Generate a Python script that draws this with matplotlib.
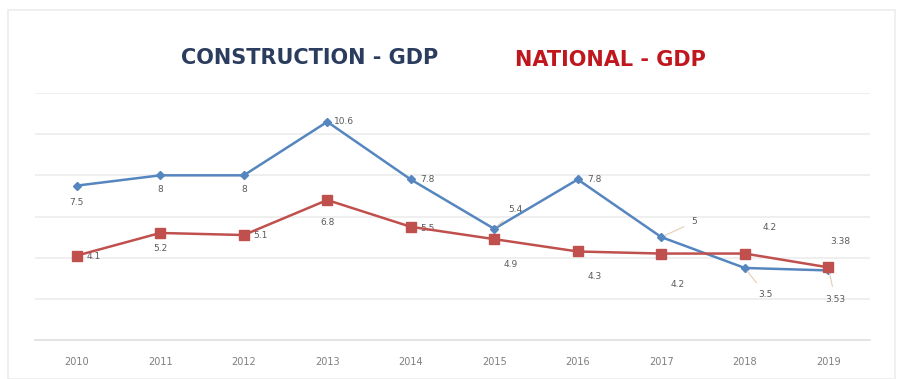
import numpy as np
import matplotlib.pyplot as plt
from matplotlib.patches import Rectangle

years = [2010, 2011, 2012, 2013, 2014, 2015, 2016, 2017, 2018, 2019]
construction = [7.5, 8, 8, 10.6, 7.8, 5.4, 7.8, 5, 3.5, 3.38]
national = [4.1, 5.2, 5.1, 6.8, 5.5, 4.9, 4.3, 4.2, 4.2, 3.53]

# label offsets in points (dx, dy) and whether a leader line is drawn
cons_offsets = [(0, -12), (0, -10), (0, -10), (12, 0), (12, 0),
                (15, 14), (12, 0), (24, 11), (15, -19), (9, 21)]
cons_leader = [False, False, False, False, False, True, False, True, True, False]
nat_offsets = [(12, -1), (0, -11), (12, 0), (0, -16), (12, -1),
               (12, -18), (12, -18), (12, -22), (18, 19), (5, -23)]
nat_leader = [False, False, False, False, False, False, False, False, False, True]

blue = '#5586bf'
red = '#c0504d'
lab_col = '#5a5a5a'

fig = plt.figure(figsize=(8.98, 3.79), dpi=100)
fig.patches.append(Rectangle((8 / 898, 0), 887 / 898, 369 / 379, transform=fig.transFigure,
                             fill=False, edgecolor='#ececec', linewidth=1.2))
ax = fig.add_axes([35 / 898, 39 / 379, 835 / 898, 247 / 379])

ax.plot(years, construction, color=blue, linewidth=1.8, marker='D', markersize=4.5, zorder=3)
ax.plot(years, national, color=red, linewidth=1.8, marker='s', markersize=7, zorder=4)

def label_series(vals, offsets, leaders):
    for x, v, off, lead in zip(years, vals, offsets, leaders):
        txt = str(v)
        if lead:
            ax.annotate(txt, (x, v), xytext=off, textcoords='offset points',
                        ha='center', va='center', fontsize=6.5, color=lab_col,
                        arrowprops=dict(arrowstyle='-', color='#e3cdb8', lw=0.8,
                                        shrinkA=4, shrinkB=3))
        else:
            ax.annotate(txt, (x, v), xytext=off, textcoords='offset points',
                        ha='center', va='center', fontsize=6.5, color=lab_col)

label_series(construction, cons_offsets, cons_leader)
label_series(national, nat_offsets, nat_leader)

ax.set_xlim(2009.5, 2019.5)
ax.set_ylim(0, 12)
ax.set_yticks(np.arange(0, 13, 2))
ax.set_yticklabels([])
ax.set_xticks(years)
ax.set_xticklabels([str(y) for y in years], fontsize=7, color='#7f7f7f')
ax.tick_params(axis='both', length=0, pad=12)
ax.grid(axis='y', color='#ececec', linewidth=1.2)
for s in ['top', 'right', 'left']:
    ax.spines[s].set_visible(False)
ax.spines['bottom'].set_color('#e0e0e0')
ax.spines['bottom'].set_linewidth(1.2)
ax.set_axisbelow(True)

title_font = ['Liberation Sans Narrow', 'DejaVu Sans']
fig.text(310 / 898, 1 - 58 / 379, 'CONSTRUCTION - GDP', ha='center', va='center',
         fontsize=15, fontweight='bold', color='#2b3d5e', family=title_font)
fig.text(610 / 898, 1 - 60 / 379, 'NATIONAL - GDP', ha='center', va='center',
         fontsize=15, fontweight='bold', color='#c0161e', family=title_font)

fig.savefig('out.png', dpi=100)
